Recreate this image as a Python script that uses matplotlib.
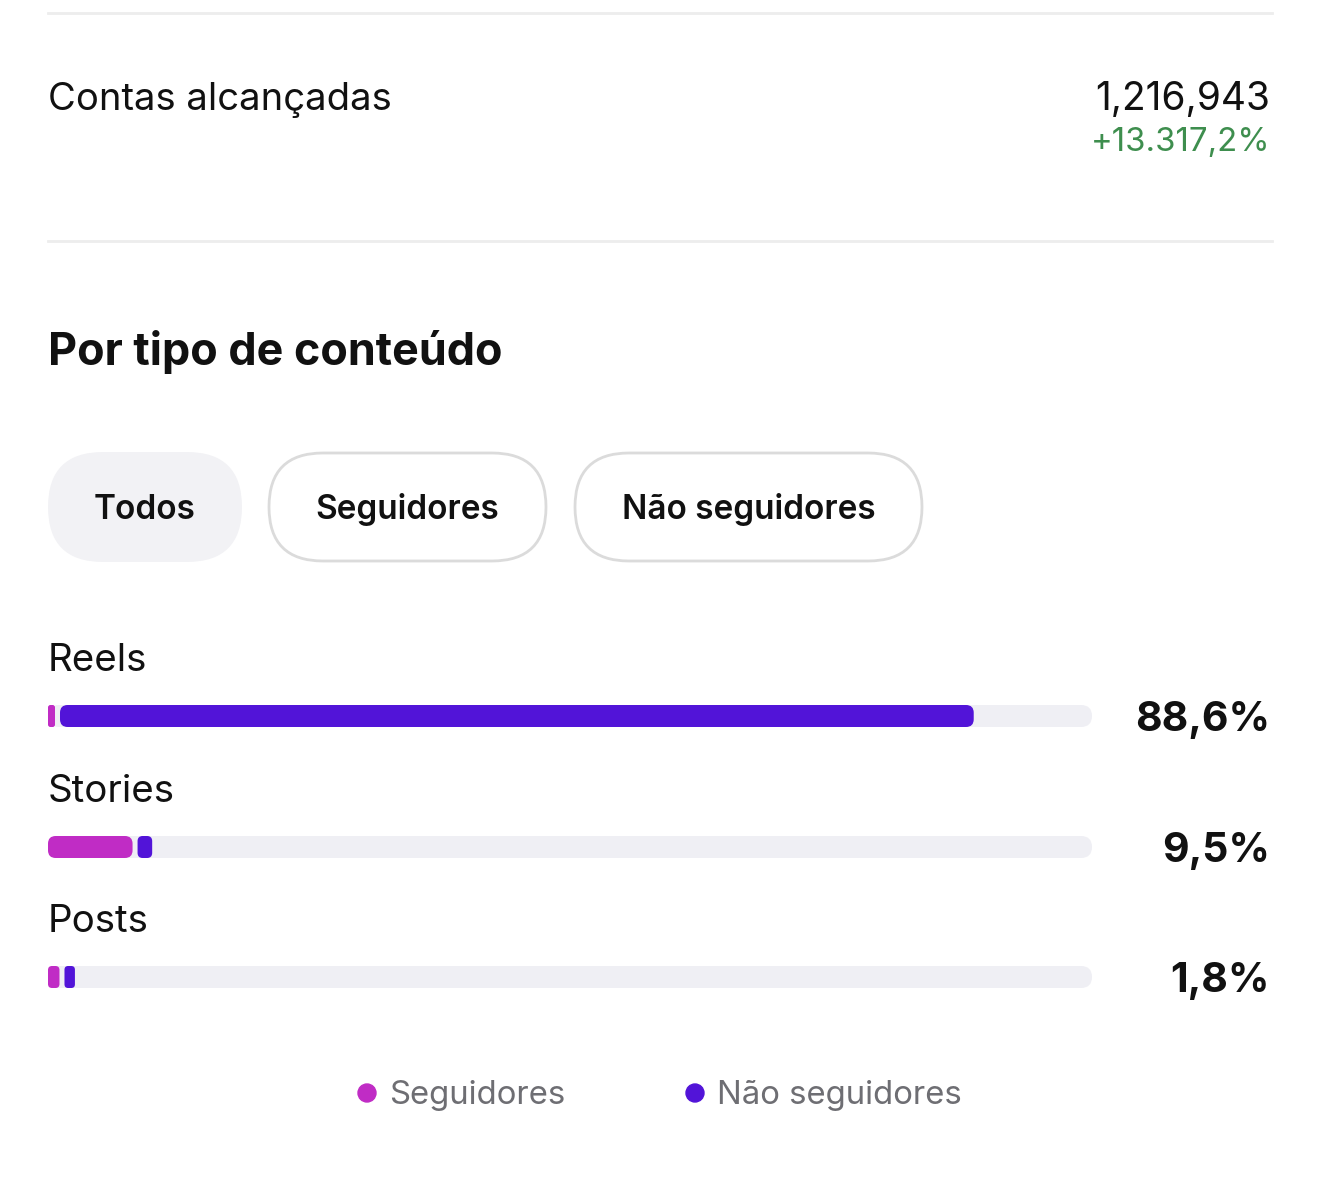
import matplotlib.pyplot as plt
from matplotlib.patches import FancyBboxPatch, Circle

plt.rcParams['font.family'] = ['Inter', 'DejaVu Sans']

# dados
categorias = ["Reels", "Stories", "Posts"]
seguidores = [0.6, 8.1, 1.1]
nao_seguidores = [88.0, 1.4, 1.0]
rotulos = ["88,6%", "9,5%", "1,8%"]
filtros = ["Todos", "Seguidores", "Não seguidores"]
contas = "1,216,943"
variacao = "+13.317,2%"

MAG = "#C02CC5"
ROX = "#5214D8"
TRACK = "#EFEFF4"

W, H = 1320, 1198
fig = plt.figure(figsize=(W / 100, H / 100), dpi=100)
ax = fig.add_axes([0, 0, 1, 1])
ax.set_xlim(0, W)
ax.set_ylim(H, 0)
ax.axis("off")


def pill(x0, x1, yc, h, fc, ec="none", lw=0):
    ax.add_patch(FancyBboxPatch((x0, yc - h / 2), x1 - x0, h,
                                boxstyle=f"round,pad=0,rounding_size={h/2}",
                                fc=fc, ec=ec, lw=lw))


def barra(x0, w, yc, h, fc):
    r = min(h / 2, w / 2) * 0.7
    ax.add_patch(FancyBboxPatch((x0 + r, yc - h / 2 + r), max(w - 2 * r, 0.01), h - 2 * r,
                                boxstyle=f"round,pad={r}", fc=fc, ec="none"))


# separadores
ax.plot([48, 1272], [13, 13], color="#EDEDED", lw=2)
ax.plot([48, 1272], [241, 241], color="#EDEDED", lw=2)

ax.text(48, 110, "Contas alcançadas", fontsize=27.5, color="#111111", va="baseline")
ax.text(1270, 110, contas, fontsize=28, color="#111111", va="baseline", ha="right")
ax.text(1270, 151, variacao, fontsize=23.7, color="#3E8E4E", va="baseline", ha="right")

ax.text(48, 365, "Por tipo de conteúdo", fontsize=32.3, fontweight="bold",
        color="#111111", va="baseline")

# filtros
pos = [(48, 242), (268, 547), (574, 923)]
for i, (nome, (a, b)) in enumerate(zip(filtros, pos)):
    if i == 0:
        pill(a, b, 507, 110, "#F2F2F5")
    else:
        pill(a + 1, b - 1, 507, 108, "white", ec="#DBDBDB", lw=2)
    ax.text((a + b) / 2, 519, nome, fontsize=24, fontweight="semibold",
            color="#111111", ha="center", va="baseline")

# barras
x0, x1 = 48, 1092
escala = (x1 - x0) / 100
gap = 5
ys = [716, 847, 977]
for cat, s, n, lab, yc in zip(categorias, seguidores, nao_seguidores, rotulos, ys):
    ax.text(48, yc - 45, cat, fontsize=27.7, color="#111111", va="baseline")
    pill(x0, x1, yc, 22, TRACK)
    ws = max(s * escala, 7)
    barra(x0, ws, yc, 22, MAG)
    wn = max(n * escala, 9)
    barra(x0 + ws + gap, wn - gap if wn > 20 else wn, yc, 22, ROX)
    ax.text(1270, yc + 15, lab, fontsize=29.5, fontweight="bold",
            color="#111111", ha="right", va="baseline")

# legenda
for xc, cor, txt in [(367, MAG, "Seguidores"), (695, ROX, "Não seguidores")]:
    ax.add_patch(Circle((xc, 1093), 9, color=cor))
    ax.text(xc + 22, 1104, txt, fontsize=23.7, color="#6E6E73", va="baseline")

fig.savefig("out.png", dpi=100, facecolor="white")
